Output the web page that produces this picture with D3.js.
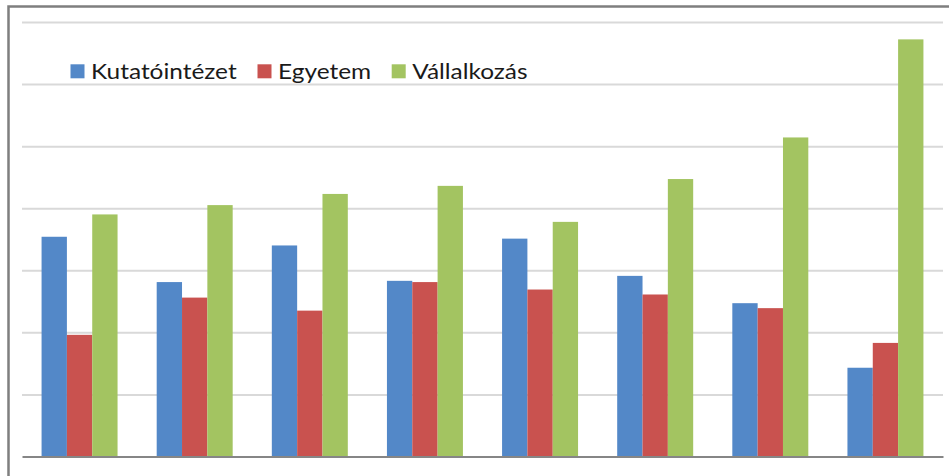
<!DOCTYPE html>
<html><head><meta charset="utf-8">
<script src="https://cdn.jsdelivr.net/npm/d3@7/dist/d3.min.js"></script>
<style>html,body{margin:0;padding:0;background:#fff;}svg{display:block;}</style>
</head><body>
<script>
const categories = ["1","2","3","4","5","6","7","8"];
const seriesNames = ["Kutatóintézet","Egyetem","Vállalkozás"];
const kutatointezet = [3.54, 2.81, 3.40, 2.83, 3.51, 2.91, 2.47, 1.43];
const egyetem       = [1.96, 2.56, 2.35, 2.81, 2.69, 2.61, 2.39, 1.83];
const vallalkozas   = [3.90, 4.05, 4.23, 4.36, 3.78, 4.47, 5.14, 6.72];
const yTicks = [0,1,2,3,4,5,6,7];
const colors = ["#5388C8","#C9524F","#A3C461"];

const W = 949, H = 476;
const svg = d3.select("body").append("svg").attr("width", W).attr("height", H);

// chart frame
svg.append("rect").attr("x", 8.5).attr("y", 6.5).attr("width", W + 10).attr("height", H + 10)
  .attr("fill", "none").attr("stroke", "#7f7f7f").attr("stroke-width", 2.5);

const x0 = d3.scaleBand().domain(categories).range([22, 943]).paddingInner(0.34).paddingOuter(0.17);
const x1 = d3.scaleBand().domain(seriesNames).range([0, x0.bandwidth()]);
const y = d3.scaleLinear().domain([0, 7]).range([456.5, 22]);

// gridlines
const yAxis = d3.axisLeft(y).tickValues(yTicks.slice(1)).tickSize(-(943 - 22)).tickFormat("");
const gy = svg.append("g").attr("transform", "translate(22,0)").call(yAxis);
gy.select(".domain").remove();
gy.selectAll(".tick line").attr("stroke", "#d9d9d9").attr("stroke-width", 2);

const data = [kutatointezet, egyetem, vallalkozas];
const groups = svg.append("g").selectAll("g").data(categories).join("g")
  .attr("transform", d => `translate(${x0(d)},0)`);
groups.selectAll("rect")
  .data((c, i) => seriesNames.map((s, j) => ({s, v: data[j][i], j})))
  .join("rect")
  .attr("x", d => x1(d.s))
  .attr("y", d => y(d.v))
  .attr("width", x1.bandwidth())
  .attr("height", d => y(0) - y(d.v))
  .attr("fill", d => colors[d.j]);

// baseline
const xAxis = d3.axisBottom(x0).tickSize(0).tickFormat("");
const gx = svg.append("g").attr("transform", `translate(0,${y(0)})`).call(xAxis);
gx.select(".domain").attr("stroke", "#868686").attr("stroke-width", 2);

// legend
const legendX = [70.5, 257.5, 391.7];
const legend = svg.append("g");
seriesNames.forEach((s, i) => {
  legend.append("rect").attr("x", legendX[i]).attr("y", 64.3).attr("width", 14).attr("height", 14)
    .attr("fill", colors[i]);
  legend.append("text")
    .attr("transform", `translate(${legendX[i] + 20.5},78.5) scale(1.11,1)`)
    .attr("font-family", "Lato, 'Open Sans', sans-serif").attr("font-size", 22)
    .attr("fill", "#1a1a1a").text(s);
});
</script>
</body></html>
